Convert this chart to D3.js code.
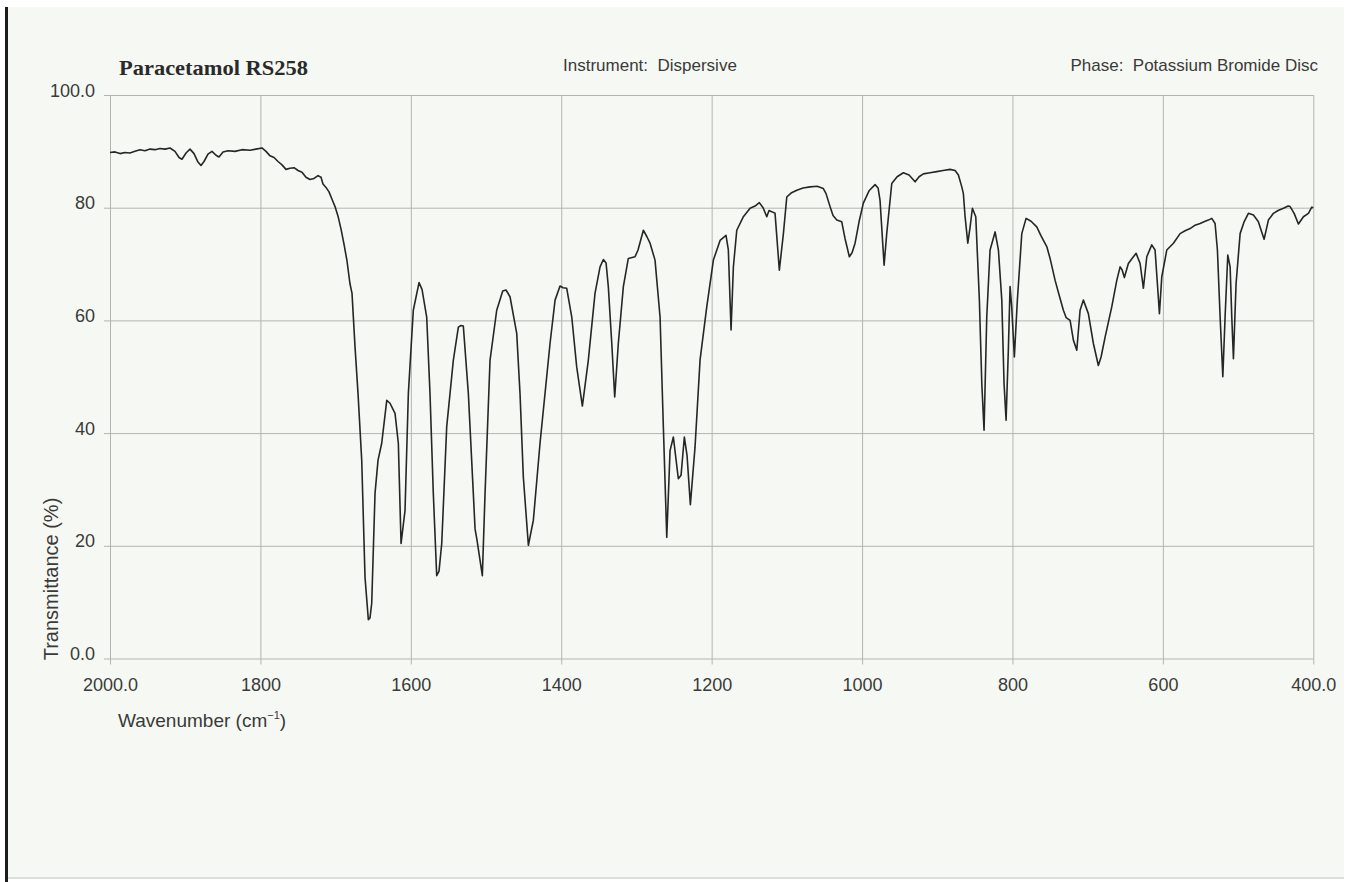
<!DOCTYPE html>
<html>
<head>
<meta charset="utf-8">
<title>Paracetamol RS258 — IR spectrum</title>
<script src="https://cdn.jsdelivr.net/npm/d3@7"></script>
<style>
  html, body { margin: 0; padding: 0; background: #ffffff; }
  svg { display: block; }
</style>
</head>
<body>
<svg id="chart" width="1357" height="882"></svg>
<script>
// Axis ticks
const xTickValues = [2000, 1800, 1600, 1400, 1200, 1000, 800, 600, 400];
const xTickLabels = ["2000.0", "1800", "1600", "1400", "1200", "1000", "800", "600", "400.0"];
const yTickValues = [0, 20, 40, 60, 80, 100];
const yTickLabels = ["0.0", "20", "40", "60", "80", "100.0"];

// Spectrum: wavenumber (cm-1) and transmittance (%)
const wavenumbers = [
  2000.0, 1993.4, 1986.7, 1980.1, 1973.4, 1966.8, 1960.1, 1953.5, 1946.8, 1940.2,
  1933.5, 1926.9, 1920.2, 1913.6, 1908.2, 1904.3, 1898.9, 1893.6, 1888.3, 1883.0,
  1879.0, 1875.0, 1869.7, 1864.4, 1859.0, 1855.1, 1849.7, 1843.1, 1833.8, 1824.5,
  1813.8, 1805.9, 1797.9, 1792.6, 1787.2, 1781.9, 1776.6, 1771.3, 1766.0, 1760.6,
  1755.3, 1750.0, 1744.7, 1739.4, 1734.1, 1728.7, 1723.4, 1719.4, 1716.8, 1712.8,
  1708.8, 1704.8, 1700.8, 1696.8, 1692.8, 1688.8, 1684.8, 1680.9, 1678.2, 1674.2,
  1670.2, 1665.3, 1660.9, 1656.5, 1654.3, 1652.0, 1647.6, 1643.6, 1638.7, 1632.0,
  1627.7, 1621.0, 1616.6, 1613.0, 1607.7, 1603.3, 1596.7, 1589.1, 1585.1, 1578.9,
  1574.5, 1570.1, 1565.6, 1562.5, 1558.9, 1552.3, 1543.5, 1536.8, 1533.2, 1530.2,
  1523.5, 1516.9, 1514.6, 1512.0, 1504.9, 1501.3, 1494.7, 1485.8, 1477.8, 1473.4,
  1468.1, 1459.2, 1454.8, 1450.4, 1443.7, 1437.1, 1428.2, 1414.9, 1408.2, 1401.6,
  1397.6, 1392.7, 1386.0, 1379.4, 1371.9, 1364.0, 1355.1, 1348.4, 1344.0, 1340.4,
  1337.4, 1332.8, 1328.9, 1324.1, 1317.4, 1310.8, 1301.9, 1297.9, 1290.8, 1285.9,
  1281.9, 1275.3, 1268.6, 1264.2, 1259.7, 1255.3, 1250.9, 1244.3, 1240.7, 1236.3,
  1232.7, 1228.3, 1222.1, 1215.4, 1206.5, 1197.7, 1188.8, 1180.9, 1177.8, 1174.2,
  1171.1, 1166.6, 1157.8, 1148.9, 1142.3, 1136.6, 1131.6, 1126.7, 1123.7, 1120.1,
  1115.7, 1110.0, 1104.6, 1100.1, 1094.4, 1086.8, 1078.5, 1069.1, 1059.8, 1051.5,
  1047.9, 1042.6, 1038.6, 1033.6, 1027.0, 1022.6, 1016.9, 1013.3, 1009.3, 1004.0,
  998.3, 990.7, 982.7, 978.7, 976.1, 970.7, 967.2, 960.5, 953.4, 945.1,
  937.5, 929.5, 924.2, 918.5, 909.6, 900.7, 892.3, 883.0, 876.3, 871.9,
  867.4, 865.3, 863.0, 859.4, 856.4, 853.3, 848.8, 844.0, 840.8, 837.8,
  834.2, 829.8, 823.1, 818.7, 814.2, 811.2, 808.5, 805.5, 803.2, 801.0,
  797.5, 793.5, 787.6, 781.9, 775.3, 767.7, 762.0, 754.4, 750.0, 743.3,
  738.0, 732.3, 728.7, 723.4, 719.0, 714.5, 710.1, 705.7, 699.1, 692.4,
  685.8, 682.2, 676.9, 668.0, 661.3, 656.9, 654.3, 651.2, 645.9, 641.0,
  635.6, 630.3, 625.9, 621.4, 614.8, 610.4, 607.3, 604.6, 601.5, 594.8,
  586.0, 577.1, 570.5, 563.8, 557.2, 550.5, 543.9, 539.5, 535.0, 530.6,
  527.5, 523.9, 520.3, 517.3, 513.7, 510.6, 508.4, 506.2, 502.7, 497.3,
  492.0, 486.3, 479.6, 473.0, 469.4, 465.4, 459.7, 453.0, 446.8, 439.7,
  433.5, 430.8, 425.5, 419.8, 413.1, 406.5, 402.0, 400.0
];
const transmittance = [
  89.8, 89.9, 89.6, 89.8, 89.7, 90.0, 90.3, 90.1, 90.4, 90.3,
  90.5, 90.4, 90.6, 90.0, 88.9, 88.6, 89.7, 90.4, 89.6, 88.1,
  87.5, 88.2, 89.5, 90.0, 89.3, 89.0, 89.9, 90.1, 90.0, 90.3,
  90.2, 90.4, 90.6, 90.0, 89.2, 88.9, 88.2, 87.6, 86.8, 87.0,
  87.1, 86.6, 86.3, 85.4, 85.0, 85.2, 85.7, 85.4, 84.2, 83.6,
  82.8, 81.5, 80.2, 78.5, 76.2, 73.5, 70.5, 66.5, 64.8, 55.3,
  47.0, 35.2, 14.4, 6.9, 7.2, 9.8, 29.3, 35.2, 38.2, 45.8,
  45.3, 43.5, 38.2, 20.4, 26.3, 47.0, 61.8, 66.7, 65.5, 60.6,
  47.0, 29.3, 14.7, 15.5, 20.4, 41.1, 52.9, 58.8, 59.1, 59.0,
  47.0, 29.3, 23.0, 21.0, 14.7, 29.3, 52.9, 61.8, 65.2, 65.4,
  64.2, 57.7, 47.0, 32.2, 20.1, 24.5, 38.2, 55.9, 63.6, 66.1,
  65.8, 65.7, 60.6, 51.7, 44.8, 52.9, 64.8, 69.5, 70.8, 70.2,
  66.0, 55.9, 46.4, 55.9, 66.0, 71.0, 71.3, 72.5, 76.0, 74.8,
  73.7, 70.7, 60.6, 41.1, 21.5, 36.9, 39.3, 31.9, 32.5, 39.3,
  36.0, 27.3, 37.5, 53.0, 62.4, 70.7, 74.2, 75.1, 72.5, 58.3,
  69.5, 76.0, 78.4, 79.9, 80.3, 80.9, 80.0, 78.4, 79.5, 79.3,
  79.0, 68.9, 75.4, 81.9, 82.6, 83.1, 83.5, 83.7, 83.8, 83.4,
  82.5, 80.2, 78.6, 77.8, 77.5, 74.5, 71.3, 72.0, 73.7, 77.5,
  80.8, 83.0, 84.1, 83.5, 81.3, 69.8, 75.4, 84.3, 85.5, 86.2,
  85.8, 84.6, 85.5, 86.0, 86.2, 86.4, 86.6, 86.8, 86.6, 85.8,
  83.7, 82.5, 78.4, 73.7, 76.5, 79.9, 78.4, 63.6, 48.8, 40.5,
  60.6, 72.5, 75.7, 72.5, 63.6, 48.8, 42.3, 54.7, 66.0, 62.4,
  53.5, 63.6, 75.4, 78.1, 77.6, 76.6, 75.0, 73.1, 71.0, 67.1,
  64.5, 61.8, 60.5, 60.0, 56.5, 54.7, 61.8, 63.6, 61.2, 55.9,
  52.0, 53.5, 57.0, 62.4, 67.1, 69.5, 69.0, 67.6, 70.1, 71.0,
  71.9, 70.1, 65.7, 71.3, 73.4, 72.5, 66.5, 61.2, 67.7, 72.5,
  73.7, 75.4, 75.9, 76.3, 76.9, 77.2, 77.6, 77.8, 78.1, 77.2,
  72.5, 60.6, 50.0, 60.6, 71.6, 69.5, 60.6, 53.2, 66.5, 75.4,
  77.5, 79.0, 78.7, 77.5, 76.0, 74.4, 77.8, 79.0, 79.5, 79.9,
  80.3, 80.2, 79.0, 77.1, 78.4, 79.0, 80.1, 80.0
];

const svg = d3.select("#chart");

// scanned sheet: off-white paper with a dark left edge
svg.append("rect").attr("x", 8).attr("y", 7).attr("width", 1336).attr("height", 871)
  .attr("fill", "#f6f9f3");
svg.append("rect").attr("x", 5).attr("y", 7).attr("width", 3).attr("height", 875)
  .attr("fill", "#1c1c1c");
svg.append("line").attr("x1", 8).attr("x2", 1344).attr("y1", 878).attr("y2", 878)
  .attr("stroke", "#d4d6d2").attr("stroke-width", 1.5);

const plot = { left: 110, right: 1313.3, top: 95, bottom: 658.5 };

const x = d3.scaleLinear().domain([2000, 400]).range([plot.left, plot.right]);
const y = d3.scaleLinear().domain([0, 100]).range([plot.bottom, plot.top]);

const gridColor = "#b2b4b0";
const textColor = "#3a3a3a";

// horizontal grid + left tick labels
const yAxis = d3.axisLeft(y)
  .tickValues(yTickValues)
  .tickFormat((d, i) => yTickLabels[i])
  .tickSizeInner(-(plot.right - plot.left))
  .tickSizeOuter(0);
const gy = svg.append("g").attr("transform", `translate(${plot.left},0)`).call(yAxis);
gy.select(".domain").remove();
gy.selectAll(".tick line")
  .attr("x1", -6)
  .attr("stroke", gridColor).attr("stroke-width", 1);
gy.selectAll(".tick text")
  .attr("x", -15).attr("dy", 0).attr("y", 1)
  .attr("font-family", "'Liberation Sans', Arial, sans-serif")
  .attr("font-size", 18).attr("fill", textColor);

// vertical grid + bottom tick labels
const xAxis = d3.axisBottom(x)
  .tickValues(xTickValues)
  .tickFormat((d, i) => xTickLabels[i])
  .tickSizeInner(-(plot.bottom - plot.top))
  .tickSizeOuter(0);
const gx = svg.append("g").attr("transform", `translate(0,${plot.bottom})`).call(xAxis);
gx.select(".domain").remove();
gx.selectAll(".tick line")
  .attr("y1", 6)
  .attr("stroke", gridColor).attr("stroke-width", 1);
gx.selectAll(".tick text")
  .attr("y", 32).attr("dy", 0)
  .attr("font-family", "'Liberation Sans', Arial, sans-serif")
  .attr("font-size", 18).attr("fill", textColor);

// spectrum trace
const points = wavenumbers.map((w, i) => [w, transmittance[i]]);
const line = d3.line().x(d => x(d[0])).y(d => y(d[1]));
svg.append("path")
  .datum(points)
  .attr("d", line)
  .attr("fill", "none")
  .attr("stroke", "#262626")
  .attr("stroke-width", 1.6)
  .attr("stroke-linejoin", "round");

// header
svg.append("text")
  .attr("x", 119).attr("y", 75)
  .attr("font-family", "'Liberation Serif', 'Times New Roman', serif")
  .attr("font-weight", "bold").attr("font-size", 21)
  .attr("textLength", 189).attr("lengthAdjust", "spacingAndGlyphs")
  .attr("fill", "#2a2a2a")
  .text("Paracetamol RS258");
svg.append("text")
  .attr("x", 563).attr("y", 71)
  .attr("font-family", "'Liberation Sans', Arial, sans-serif")
  .attr("font-size", 17).attr("fill", textColor)
  .attr("xml:space", "preserve")
  .text("Instrument:  Dispersive");
svg.append("text")
  .attr("x", 1318).attr("y", 71)
  .attr("text-anchor", "end")
  .attr("font-family", "'Liberation Sans', Arial, sans-serif")
  .attr("font-size", 17).attr("fill", textColor)
  .attr("xml:space", "preserve")
  .text("Phase:  Potassium Bromide Disc");

// axis titles
svg.append("text")
  .attr("transform", "translate(58,579) rotate(-90)")
  .attr("text-anchor", "middle")
  .attr("font-family", "'Liberation Sans', Arial, sans-serif")
  .attr("font-size", 20).attr("fill", textColor)
  .text("Transmittance (%)");
const xt = svg.append("text")
  .attr("x", 118).attr("y", 727)
  .attr("font-family", "'Liberation Sans', Arial, sans-serif")
  .attr("font-size", 19).attr("fill", textColor);
xt.append("tspan").text("Wavenumber (cm");
xt.append("tspan").attr("font-size", 11).attr("dy", -8).text("−1");
xt.append("tspan").attr("dy", 8).text(")");
</script>
</body>
</html>
